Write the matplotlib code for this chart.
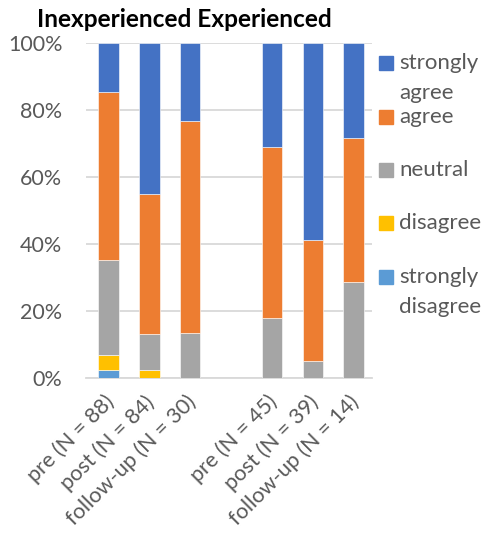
import matplotlib
matplotlib.use("Agg")
import matplotlib.pyplot as plt
import matplotlib.transforms as mtransforms
from matplotlib.patches import Rectangle
import numpy as np

plt.rcParams['font.family'] = ['Lato', 'DejaVu Sans']

# Response counts per survey wave (inexperienced: pre/post/follow-up, then experienced)
groups = ["pre (N = 88)", "post (N = 84)", "follow-up (N = 30)",
          "pre (N = 45)", "post (N = 39)", "follow-up (N = 14)"]
n_total = [88, 84, 30, 45, 39, 14]
strongly_disagree = [2, 0, 0, 0, 0, 0]
disagree = [4, 2, 0, 0, 0, 0]
neutral = [25, 9, 4, 8, 2, 4]
agree = [44, 35, 19, 23, 14, 6]
strongly_agree = [13, 38, 7, 14, 23, 4]

series_names = ["strongly disagree", "disagree", "neutral", "agree", "strongly agree"]
colors = {"strongly agree": "#4472C4", "agree": "#ED7D31", "neutral": "#A5A5A5",
          "disagree": "#FFC000", "strongly disagree": "#5B9BD5"}

counts = {"strongly disagree": strongly_disagree, "disagree": disagree,
          "neutral": neutral, "agree": agree, "strongly agree": strongly_agree}

# bar slots: an empty slot separates the two experience groups
positions = np.array([0, 1, 2, 4, 5, 6])
n_arr = np.array(n_total, dtype=float)

W, H = 483, 536
fig = plt.figure(figsize=(W / 100, H / 100), dpi=100)
ax = fig.add_axes([86 / W, 1 - 377.7 / H, 286 / W, 335 / H])

bottom = np.zeros(len(groups))
for name in series_names:
    pct = np.array(counts[name]) / n_arr * 100
    ax.bar(positions, pct, width=0.5, bottom=bottom, color=colors[name],
           edgecolor="white", linewidth=0.4, zorder=3)
    bottom += pct

ax.set_xlim(-0.55, 6.45)
ax.set_ylim(0, 100)
ax.set_yticks(np.arange(0, 101, 20))
ax.set_yticklabels([f"{v}%" for v in range(0, 101, 20)])
ax.yaxis.grid(True, color="#d9d9d9", linewidth=1.3, zorder=0)
ax.set_axisbelow(True)
for s in ["top", "right", "left"]:
    ax.spines[s].set_visible(False)
ax.spines["bottom"].set_color("#d9d9d9")
ax.spines["bottom"].set_linewidth(1.3)
ax.tick_params(axis="both", length=0, labelsize=15.5, colors="#595959")
ax.tick_params(axis="y", pad=17)

ax.set_xticks(positions)
ax.set_xticklabels(groups, rotation=45, ha="right", va="top",
                   rotation_mode="anchor", fontsize=15.6)
ax.tick_params(axis="x", pad=10)
shift = mtransforms.ScaledTranslation(-5 / 100, 0, fig.dpi_scale_trans)
for lbl in ax.get_xticklabels():
    lbl.set_transform(lbl.get_transform() + shift)

fig.text(37 / W, 1 - 27 / H, "Inexperienced Experienced", fontsize=17.6,
         fontweight="bold", color="black", va="baseline", ha="left")

# legend column on the right
legend_order = ["strongly agree", "agree", "neutral", "disagree", "strongly disagree"]
legend_lines = [["strongly", "agree"], ["agree"], ["neutral"], ["disagree"],
                ["strongly", "disagree"]]
ys = [63, 117, 170, 223, 277]
for name, lines, yp in zip(legend_order, legend_lines, ys):
    fig.patches.append(Rectangle((379 / W, 1 - (yp + 7) / H), 14 / W, 14 / H,
                                 transform=fig.transFigure, color=colors[name]))
    for k, line in enumerate(lines):
        fig.text(399 / W, 1 - (yp + 30 * k) / H, line, fontsize=16,
                 color="#595959", va="center", ha="left")

fig.savefig("out.png", dpi=100)
